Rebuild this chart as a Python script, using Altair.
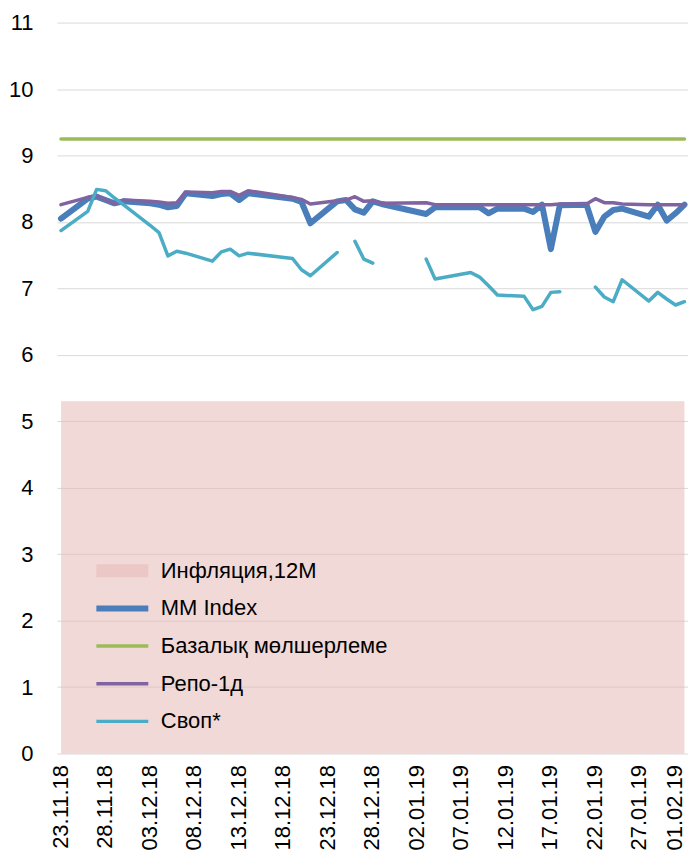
import altair as alt
import pandas as pd

dates = ["23.11.18", "26.11.18", "27.11.18", "28.11.18", "29.11.18", "30.11.18",
         "03.12.18", "04.12.18", "05.12.18", "06.12.18", "07.12.18",
         "10.12.18", "11.12.18", "12.12.18", "13.12.18", "14.12.18",
         "19.12.18", "20.12.18", "21.12.18",
         "24.12.18", "25.12.18", "26.12.18", "27.12.18", "28.12.18", "29.12.18",
         "03.01.19", "04.01.19",
         "08.01.19", "09.01.19", "10.01.19", "11.01.19",
         "14.01.19", "15.01.19", "16.01.19", "17.01.19", "18.01.19",
         "21.01.19", "22.01.19", "23.01.19", "24.01.19", "25.01.19",
         "28.01.19", "29.01.19", "30.01.19", "31.01.19", "01.02.19"]

mm_index = [8.05, 8.35, 8.38, 8.33, 8.28, 8.31,
            8.28, 8.26, 8.22, 8.24, 8.43,
            8.39, 8.42, 8.43, 8.33, 8.43,
            8.35, 8.30, 7.98,
            8.31, 8.33, 8.19, 8.14, 8.31, 8.27,
            8.12, 8.22,
            8.22, 8.22, 8.13, 8.20,
            8.20, 8.15, 8.26, 7.59, 8.25,
            8.26, 7.85, 8.08, 8.18, 8.20,
            8.08, 8.26, 8.02, 8.13, 8.26]

repo_1d = [8.26, 8.37, 8.40, 8.33, 8.27, 8.33,
           8.31, 8.30, 8.28, 8.29, 8.45,
           8.44, 8.46, 8.46, 8.40, 8.47,
           8.37, 8.34, 8.27,
           8.32, 8.33, 8.38, 8.31, 8.32, 8.28,
           8.29, 8.26,
           8.26, 8.26, 8.26, 8.26,
           8.26, 8.26, 8.26, 8.26, 8.27,
           8.27, 8.35, 8.29, 8.29, 8.27,
           8.26, 8.26, 8.26, 8.26, 8.26]

swap = [7.87, 8.16, 8.49, 8.47, 8.36, 8.26,
        7.95, 7.84, 7.49, 7.56, 7.53,
        7.41, 7.55, 7.59, 7.49, 7.53,
        7.45, 7.28, 7.19,
        7.54, None, 7.71, 7.44, 7.38, None,
        7.44, 7.14,
        7.24, 7.17, 7.04, 6.90,
        6.88, 6.68, 6.73, 6.94, 6.95,
        None, 7.02, 6.87, 6.80, 7.13,
        6.81, 6.94, 6.84, 6.75, 6.80]

base_rate_value = 9.25
inflation_value = 5.3

tick_labels = ["23.11.18", "28.11.18", "03.12.18", "08.12.18", "13.12.18",
               "18.12.18", "23.12.18", "28.12.18", "02.01.19", "07.01.19",
               "12.01.19", "17.01.19", "22.01.19", "27.01.19", "01.02.19"]
y_ticks = list(range(0, 12))

series_names = ["Инфляция,12M", "MM Index", "Базалық мөлшерлеме", "Репо-1д", "Своп*"]
series_colors = ["#E6B9B8", "#4A7EBB", "#9BBB59", "#8064A2", "#4BACC6"]
series_widths = [13, 6, 3.5, 3.5, 3.5]
series_opacity = [0.55, 1, 1, 1, 1]

FONT = "Liberation Sans"
FS = 22

rows = []
for i, d in enumerate(dates):
    rows.append({"date": d, "series": series_names[0], "value": inflation_value})
    rows.append({"date": d, "series": series_names[1], "value": mm_index[i]})
    rows.append({"date": d, "series": series_names[2], "value": base_rate_value})
    rows.append({"date": d, "series": series_names[3], "value": repo_1d[i]})
    rows.append({"date": d, "series": series_names[4], "value": swap[i]})
df = pd.DataFrame(rows)
df["date"] = pd.to_datetime(df["date"], format="%d.%m.%y")


def to_dt(s):
    t = pd.to_datetime(s, format="%d.%m.%y")
    return alt.DateTime(year=t.year, month=t.month, date=t.day)


legend = alt.Legend(title=None, orient="none", legendX=33, legendY=537,
                    symbolType="stroke", symbolSize=2704, clipHeight=24,
                    labelFont=FONT, labelFontSize=FS, labelColor="black",
                    labelOffset=6, rowPadding=13.7, padding=0, labelLimit=400)

color = alt.Color("series:N", scale=alt.Scale(domain=series_names, range=series_colors), legend=legend)
swidth = alt.StrokeWidth("series:N", scale=alt.Scale(type="ordinal", domain=series_names, range=series_widths), legend=legend)
opac = alt.Opacity("series:N", scale=alt.Scale(type="ordinal", domain=series_names, range=series_opacity), legend=legend)

x = alt.X("date:T",
          scale=alt.Scale(domain=[alt.DateTime(year=2018, month=11, date=22, hours=13),
                                  alt.DateTime(year=2019, month=2, date=1, hours=9, minutes=30)]),
          axis=alt.Axis(values=[to_dt(s) for s in tick_labels], format="%d.%m.%y",
                        labelAngle=270, labelFont=FONT, labelFontSize=FS, labelColor="black",
                        labelPadding=11, ticks=False, domain=False, grid=False, title=None,
                        labelOverlap=False,
                        labelOffset={"condition": {"test": "datum.index >= 1", "value": -10},
                                     "value": -1}))
y = alt.Y("value:Q", scale=alt.Scale(domain=[0, 11], nice=False, zero=True),
          axis=alt.Axis(values=y_ticks, title=None, grid=True, gridColor="#D9D9D9", gridWidth=1,
                        domain=False, ticks=False, labelPadding=24, labelFont=FONT,
                        labelFontSize=FS, labelColor="black"))

base = alt.Chart(df)
area = base.transform_filter(alt.datum.series == series_names[0]).mark_area().encode(
    x=x, y=y, color=color, strokeWidth=swidth, opacity=opac)
lines = base.transform_filter(alt.datum.series != series_names[0]).mark_line(
    strokeCap="round", strokeJoin="round", invalid="break-paths-filter-domains").encode(
    x=x, y=y, color=color, strokeWidth=swidth, opacity=opac,
    detail="series:N")

chart = alt.layer(area, lines).properties(
    width=632, height=732,
    padding={"left": 49, "top": 14, "right": 0, "bottom": 100},
    autosize=alt.AutoSizeParams(type="none"),
).configure_view(stroke=None)

chart.save("out.html", embed_options={"renderer": "svg", "actions": False})
